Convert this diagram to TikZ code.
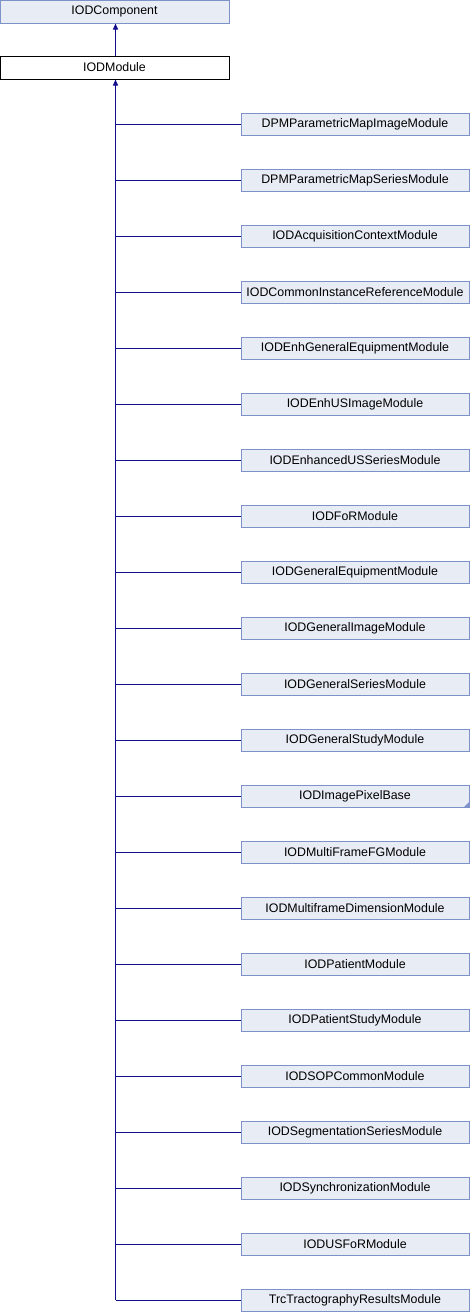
\documentclass[tikz,border=0pt]{standalone}
\usepackage{fontspec}
\setmainfont{Liberation Sans}
\usetikzlibrary{arrows.meta}
\definecolor{boxfill}{RGB}{232,236,245}
\definecolor{boxborder}{RGB}{124,146,200}
\definecolor{edgecol}{RGB}{16,16,140}
\begin{document}
\begin{tikzpicture}[x=1pt,y=-1pt,
  cls/.style={draw=boxborder, fill=boxfill, line width=1pt, minimum width=228pt, minimum height=22pt, inner sep=0pt, font=\fontsize{12.4}{13}\selectfont},
  top/.style={cls, minimum width=229pt, minimum height=23pt},
  cur/.style={top, draw=black, fill=white},
  edge/.style={draw=edgecol, line width=1pt},
  tip/.style={edge, {Triangle[length=6pt,width=5pt]}-}]
\useasboundingbox (0,0) rectangle (470,1312);
\node[top] (comp) at (114.5,11.5) {IODComponent};
\node[cur] (mod) at (114.5,67.5) {IODModule};
\coordinate (trunk) at ([xshift=1pt]mod.south);
\draw[tip] ([xshift=1pt]comp.south) -- ([xshift=1pt]mod.north);
\foreach \n [count=\i from 0] in {DPMParametricMapImageModule,DPMParametricMapSeriesModule,IODAcquisitionContextModule,IODCommonInstanceReferenceModule,IODEnhGeneralEquipmentModule,IODEnhUSImageModule,IODEnhancedUSSeriesModule,IODFoRModule,IODGeneralEquipmentModule,IODGeneralImageModule,IODGeneralSeriesModule,IODGeneralStudyModule,IODImagePixelBase,IODMultiFrameFGModule,IODMultiframeDimensionModule,IODPatientModule,IODPatientStudyModule,IODSOPCommonModule,IODSegmentationSeriesModule,IODSynchronizationModule,IODUSFoRModule,TrcTractographyResultsModule}
{
  \node[cls] (c\i) at (355,124+56*\i) {\n};
  \draw[edge] (trunk |- c\i.west) -- (c\i.west);
}
\draw[tip] (trunk) -- (trunk |- c21.west);
\fill[boxborder] (c12.south east) -- ++(-6,0) -- ++(6,-6) -- cycle;
\end{tikzpicture}
\end{document}
